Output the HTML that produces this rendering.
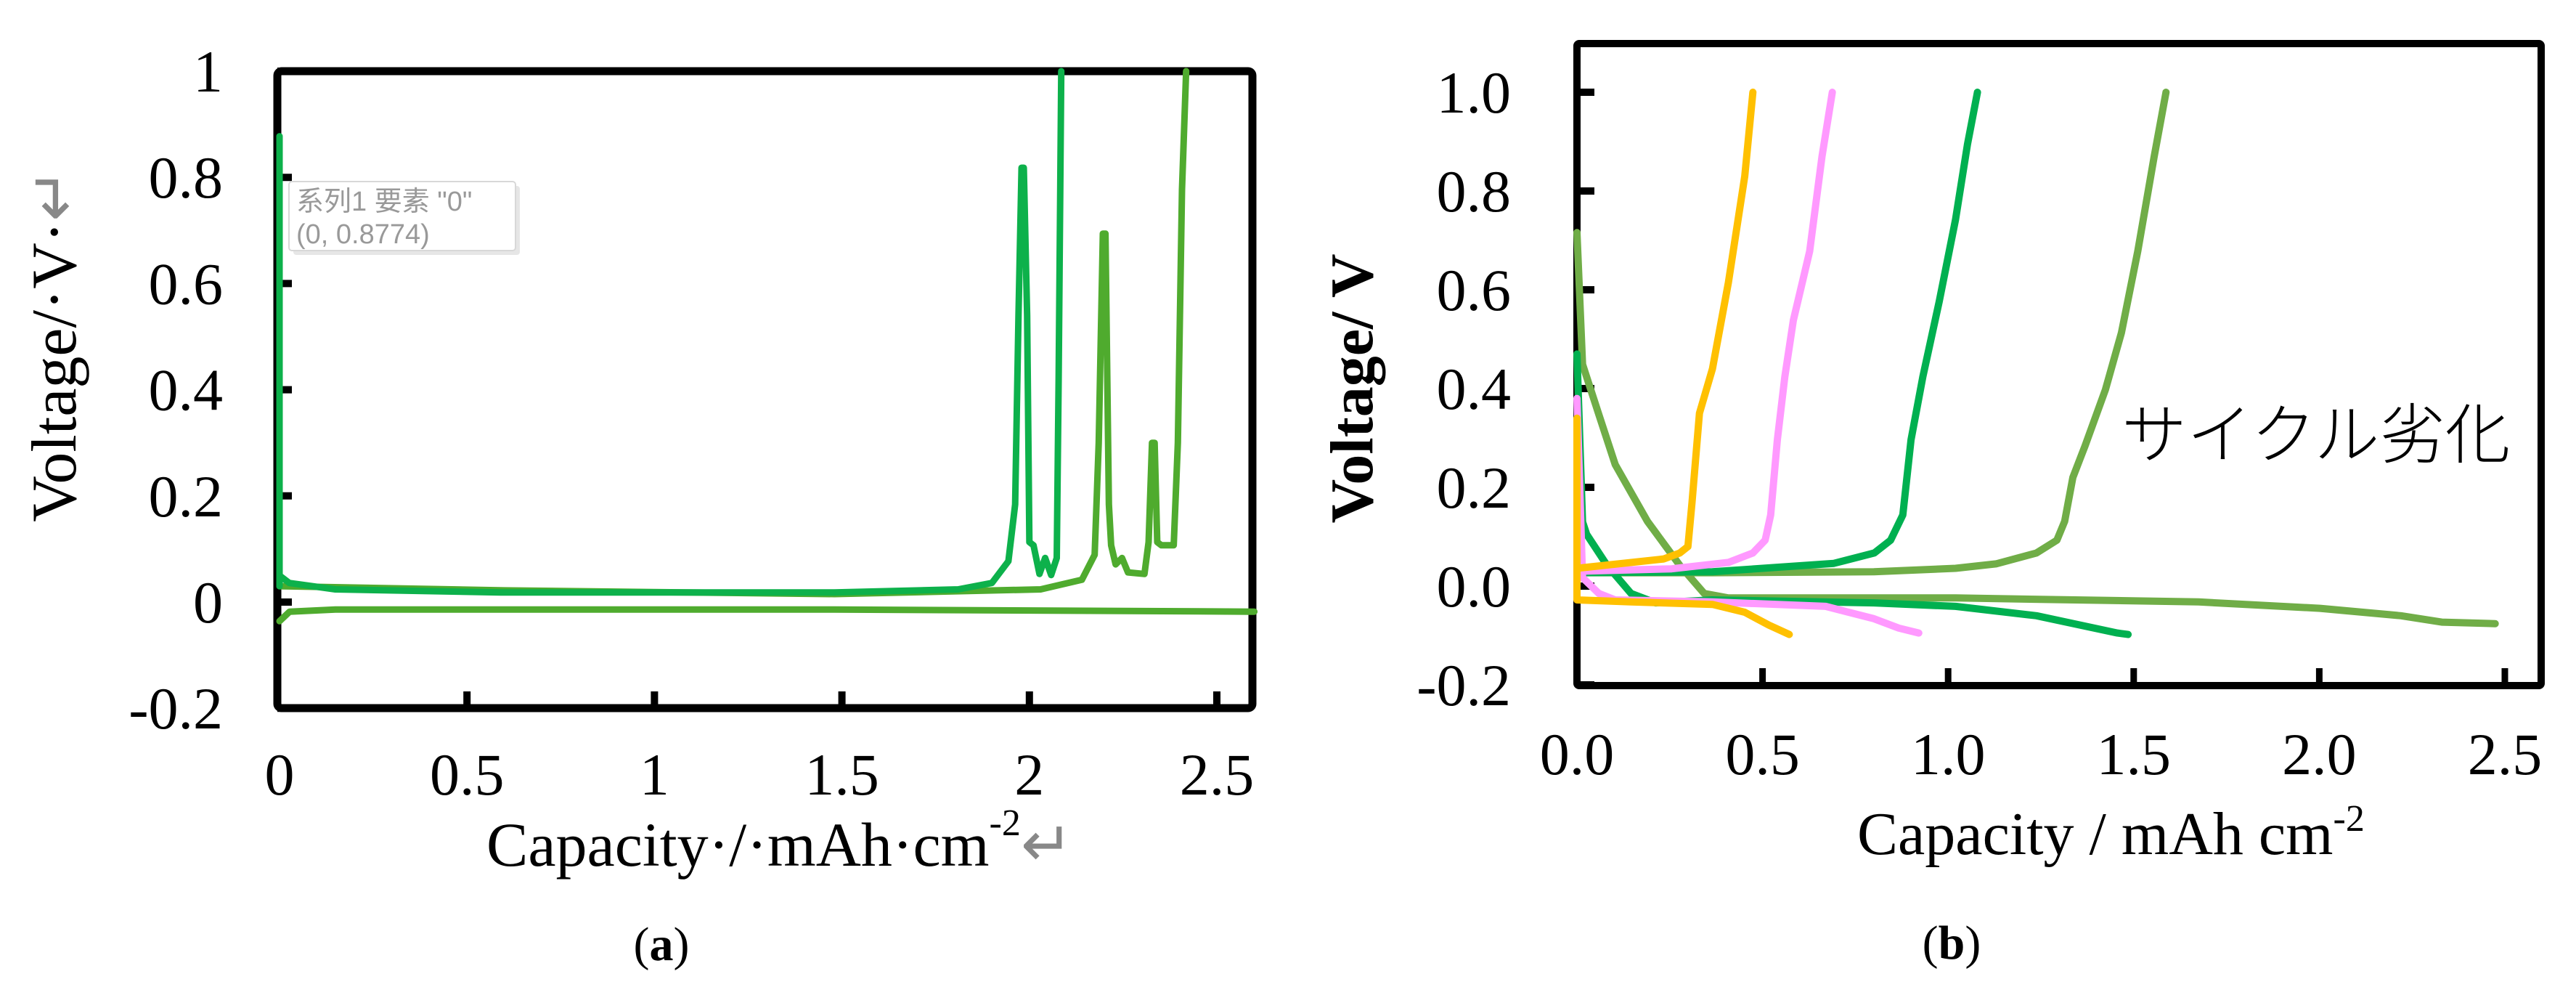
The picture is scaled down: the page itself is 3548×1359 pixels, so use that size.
<!DOCTYPE html>
<html><head><meta charset="utf-8"><style>
html,body{margin:0;padding:0;background:#fff;}
svg{display:block;}
text{font-family:"Liberation Serif","Noto Serif CJK SC",serif;fill:#000;}
</style></head><body>
<svg id="fig" width="3548" height="1359" viewBox="0 0 3548 1359" xmlns="http://www.w3.org/2000/svg">
<g id="chartA"></g>
<g id="chartB"></g>
</svg>
<script>
// ---------- Chart (a) data ----------
const aXTicks = [0, 0.5, 1, 1.5, 2, 2.5];
const aXTickLabels = ["0", "0.5", "1", "1.5", "2", "2.5"];
const aYTicks = [1, 0.8, 0.6, 0.4, 0.2, 0, -0.2];
const aYTickLabels = ["1", "0.8", "0.6", "0.4", "0.2", "0", "-0.2"];
const aSpikeX = [0, 0];
const aSpikeY = [0.03, 0.8774];
const aCharge1X = [0, 0.026, 0.149, 0.59, 1.48, 1.81, 1.9, 1.944, 1.962, 1.971, 1.979, 1.985, 1.994, 2.0, 2.011, 2.027, 2.042, 2.058, 2.073, 2.078, 2.085];
const aCharge1Y = [0.05, 0.036, 0.024, 0.018, 0.018, 0.024, 0.036, 0.077, 0.184, 0.54, 0.818, 0.818, 0.54, 0.113, 0.107, 0.053, 0.083, 0.051, 0.083, 0.42, 1.0];
const aCharge2X = [0, 0.6, 1.48, 2.03, 2.14, 2.174, 2.185, 2.196, 2.203, 2.212, 2.218, 2.23, 2.247, 2.263, 2.307, 2.318, 2.327, 2.334, 2.341, 2.352, 2.385, 2.396, 2.407, 2.418];
const aCharge2Y = [0.03, 0.022, 0.015, 0.024, 0.042, 0.089, 0.3, 0.694, 0.694, 0.184, 0.107, 0.071, 0.083, 0.056, 0.053, 0.113, 0.3, 0.3, 0.113, 0.107, 0.107, 0.3, 0.777, 1.0];
const aDisX = [0, 0.027, 0.149, 1.48, 2.6];
const aDisY = [-0.036, -0.018, -0.014, -0.014, -0.018];

// ---------- Chart (b) data ----------
const bXTicks = [0, 0.5, 1.0, 1.5, 2.0, 2.5];
const bXTickLabels = ["0.0", "0.5", "1.0", "1.5", "2.0", "2.5"];
const bYTicks = [1.0, 0.8, 0.6, 0.4, 0.2, 0.0, -0.2];
const bYTickLabels = ["1.0", "0.8", "0.6", "0.4", "0.2", "0.0", "-0.2"];
const yellowChargeX = [0, 0.234, 0.277, 0.299, 0.31, 0.33, 0.365, 0.408, 0.452, 0.474];
const yellowChargeY = [0.036, 0.055, 0.067, 0.08, 0.17, 0.35, 0.44, 0.615, 0.83, 1.0];
const yellowDisX = [0, 0, 0.146, 0.365, 0.452, 0.517, 0.572];
const yellowDisY = [0.34, -0.028, -0.032, -0.037, -0.053, -0.079, -0.098];
const pinkChargeX = [0, 0.255, 0.408, 0.474, 0.507, 0.522, 0.54, 0.56, 0.583, 0.627, 0.66, 0.688];
const pinkChargeY = [0.03, 0.035, 0.048, 0.067, 0.093, 0.144, 0.296, 0.424, 0.538, 0.678, 0.869, 1.0];
const pinkDisX = [0, 0.015, 0.059, 0.103, 0.365, 0.67, 0.8, 0.867, 0.921];
const pinkDisY = [0.38, 0.017, -0.015, -0.028, -0.032, -0.041, -0.066, -0.085, -0.095];
const greenChargeX = [0, 0.365, 0.692, 0.801, 0.845, 0.878, 0.9, 0.932, 0.976, 1.02, 1.052, 1.079];
const greenChargeY = [0.027, 0.029, 0.046, 0.067, 0.093, 0.144, 0.296, 0.424, 0.576, 0.742, 0.894, 1.0];
const greenDisX = [0, 0.015, 0.026, 0.081, 0.146, 0.212, 0.365, 0.8, 1.02, 1.238, 1.456, 1.485];
const greenDisY = [0.47, 0.13, 0.105, 0.042, -0.015, -0.034, -0.028, -0.034, -0.041, -0.06, -0.095, -0.098];
const oliveChargeX = [0, 0.365, 0.8, 1.02, 1.129, 1.238, 1.293, 1.314, 1.336, 1.369, 1.424, 1.467, 1.511, 1.555, 1.587];
const oliveChargeY = [0.027, 0.027, 0.029, 0.036, 0.045, 0.067, 0.093, 0.131, 0.22, 0.284, 0.398, 0.513, 0.678, 0.869, 1.0];
const oliveDisX = [0, 0.015, 0.059, 0.103, 0.19, 0.277, 0.343, 0.408, 1.02, 1.675, 2.002, 2.22, 2.33, 2.474];
const oliveDisY = [0.716, 0.449, 0.347, 0.246, 0.131, 0.042, -0.015, -0.024, -0.024, -0.032, -0.045, -0.06, -0.073, -0.076];

const NS = "http://www.w3.org/2000/svg";
function mk(tag, attrs, parent) {
  const e = document.createElementNS(NS, tag);
  for (const k in attrs) e.setAttribute(k, attrs[k]);
  parent.appendChild(e);
  return e;
}
function linePath(xs, ys, sx, sy) {
  return xs.map((x, i) => (i ? "L" : "M") + sx(x).toFixed(1) + " " + sy(ys[i]).toFixed(1)).join(" ");
}

// ---------- Chart (a) ----------
(function () {
  const g = document.getElementById("chartA");
  const sx = v => 385 + v * 516.4;
  const sy = v => 98 + (1 - v) * 731;
  const frame = mk("rect", {x: 382, y: 98, width: 1343, height: 877, fill: "none", stroke: "#000", "stroke-width": 11, rx: 6}, g);
  
  
  aYTicks.forEach((v, i) => {
    const t = mk("line", {x1: 382, x2: 402, y1: sy(v), y2: sy(v), stroke: "#000", "stroke-width": 10}, g);
    
    
    const l = mk("text", {x: 307, y: sy(v) + 28, "text-anchor": "end", "font-size": 82}, g);
    l.textContent = aYTickLabels[i];
    
    
  });
  aXTicks.forEach((v, i) => {
    if (i > 0) {
      const t = mk("line", {x1: sx(v), x2: sx(v), y1: 975, y2: 952, stroke: "#000", "stroke-width": 10}, g);
      
      
    }
    const l = mk("text", {x: sx(v), y: 1094, "text-anchor": "middle", "font-size": 82}, g);
    l.textContent = aXTickLabels[i];
    
    
  });
  const series = [
    [aDisX, aDisY, "#4fab2e", "discharge-curve"],
    [aCharge2X, aCharge2Y, "#4fab2e", "charge-curve-2"],
    [aCharge1X, aCharge1Y, "#0db14b", "charge-curve-1"],
    [aSpikeX, aSpikeY, "#0db14b", "initial-spike"]
  ];
  series.forEach(s => {
    const p = mk("path", {d: linePath(s[0], s[1], sx, sy), fill: "none", stroke: s[2], "stroke-width": 9, "stroke-linejoin": "round", "stroke-linecap": "round"}, g);
    
    
  });
  const tip = mk("g", {}, g);
  
  
  mk("rect", {x: 404, y: 256, width: 312, height: 95, fill: "#e6e6e6", rx: 4}, tip);
  mk("rect", {x: 398, y: 250, width: 312, height: 95, fill: "#fff", stroke: "#d8d8d8", "stroke-width": 2, rx: 4}, tip);
  const t1 = mk("text", {x: 408, y: 290, "font-size": 38, style: "fill:#999;font-family:'Liberation Sans','Noto Sans CJK SC',sans-serif"}, tip);
  t1.textContent = '系列1 要素 "0"';
  const t2 = mk("text", {x: 408, y: 335, "font-size": 38, style: "fill:#999;font-family:'Liberation Sans',sans-serif"}, tip);
  t2.textContent = "(0, 0.8774)";
  const yt = mk("text", {x: 0, y: 0, "font-size": 88, "text-anchor": "middle", transform: "translate(104,475) rotate(-90)"}, g);
  yt.innerHTML = 'Voltage/·V·<tspan style="fill:#888">↵</tspan>';
  
  
  const xt = mk("text", {x: 670, y: 1192, "font-size": 86}, g);
  xt.innerHTML = 'Capacity·/·mAh·cm<tspan dy="-42" font-size="52">-2</tspan><tspan dy="42" style="fill:#888">↵</tspan>';
  
  
  const cap = mk("text", {x: 911, y: 1322, "font-size": 66, "text-anchor": "middle"}, g);
  cap.innerHTML = '(<tspan font-weight="bold">a</tspan>)';
  
  
})();

// ---------- Chart (b) ----------
(function () {
  const g = document.getElementById("chartB");
  const sx = v => 2172 + v * 511.2;
  const sy = v => 127 + (1 - v) * 680;
  const frame = mk("rect", {x: 2172, y: 60, width: 1328, height: 884, fill: "none", stroke: "#000", "stroke-width": 10, rx: 3}, g);
  
  
  bYTicks.forEach((v, i) => {
    const t = mk("line", {x1: 2172, x2: 2196, y1: sy(v), y2: sy(v), stroke: "#000", "stroke-width": 10}, g);
    
    
    const l = mk("text", {x: 2081, y: sy(v) + 28, "text-anchor": "end", "font-size": 82}, g);
    l.textContent = bYTickLabels[i];
    
    
  });
  bXTicks.forEach((v, i) => {
    if (i > 0) {
      const t = mk("line", {x1: sx(v), x2: sx(v), y1: 944, y2: 920, stroke: "#000", "stroke-width": 9}, g);
      
      
    }
    const l = mk("text", {x: sx(v), y: 1066, "text-anchor": "middle", "font-size": 82}, g);
    l.textContent = bXTickLabels[i];
    
    
  });
  const series = [
    [oliveDisX, oliveDisY, "#70ad47", "olive-discharge"],
    [oliveChargeX, oliveChargeY, "#70ad47", "olive-charge"],
    [greenDisX, greenDisY, "#00b050", "green-discharge"],
    [greenChargeX, greenChargeY, "#00b050", "green-charge"],
    [pinkDisX, pinkDisY, "#ff99ff", "pink-discharge"],
    [pinkChargeX, pinkChargeY, "#ff99ff", "pink-charge"],
    [yellowDisX, yellowDisY, "#ffc000", "yellow-discharge"],
    [yellowChargeX, yellowChargeY, "#ffc000", "yellow-charge"]
  ];
  series.forEach(s => {
    const p = mk("path", {d: linePath(s[0], s[1], sx, sy), fill: "none", stroke: s[2], "stroke-width": 10, "stroke-linejoin": "round", "stroke-linecap": "round"}, g);
    
    
  });
  const ann = mk("text", {x: 2922, y: 630, "font-size": 90, "font-weight": 300, style: "font-family:'Noto Sans CJK JP','Noto Sans CJK SC',sans-serif"}, g);
  ann.textContent = "サイクル劣化";
  
  
  const yt = mk("text", {x: 0, y: 0, "font-size": 84, "font-weight": "bold", "text-anchor": "middle", transform: "translate(1890,535) rotate(-90)"}, g);
  yt.textContent = "Voltage/ V";
  
  
  const xt = mk("text", {x: 2558, y: 1176, "font-size": 84}, g);
  xt.innerHTML = 'Capacity / mAh cm<tspan dy="-32" font-size="52">-2</tspan>';
  
  
  const cap = mk("text", {x: 2688, y: 1320, "font-size": 66, "text-anchor": "middle"}, g);
  cap.innerHTML = '(<tspan font-weight="bold">b</tspan>)';
  
  
})();
</script>
</body></html>
